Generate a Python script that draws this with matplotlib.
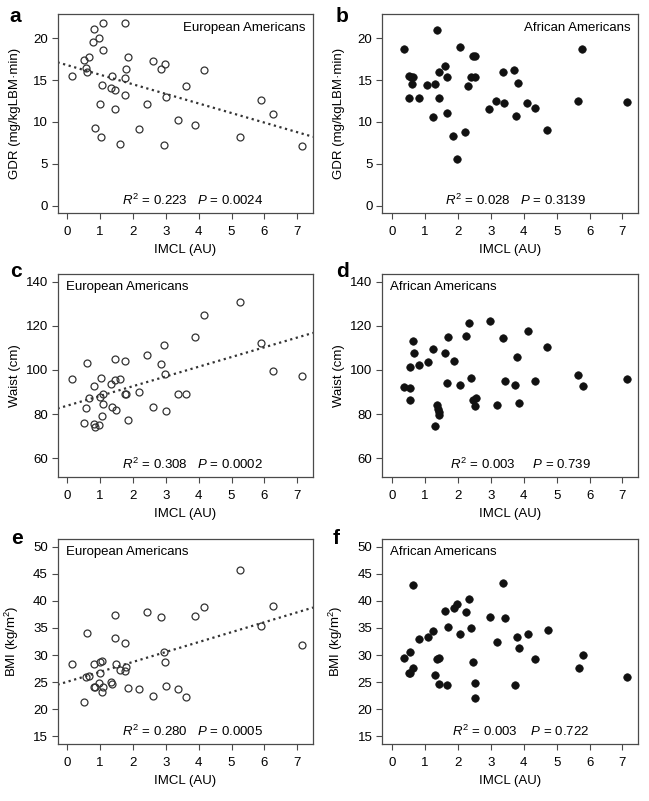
import numpy as np
import matplotlib
matplotlib.use("Agg")
import matplotlib.pyplot as plt

plt.rcParams['font.family'] = ['Liberation Sans', 'DejaVu Sans']
plt.rcParams['mathtext.fontset'] = 'custom'
plt.rcParams['mathtext.rm'] = 'Liberation Sans'
plt.rcParams['mathtext.it'] = 'Liberation Sans:italic'

# ---- data ----
# European Americans: IMCL vs GDR
ea_gdr_x = [0.80, 1.08, 1.75, 0.78, 0.97, 1.09, 0.52, 0.65, 0.56, 0.61, 0.13, 1.85, 1.80,
            1.36, 1.75, 1.06, 1.33, 1.45, 1.75, 0.99, 1.46, 2.41, 2.62, 2.96, 2.86, 3.01,
            3.60, 4.17, 3.38, 3.90, 2.19, 0.84, 1.03, 1.60, 2.94, 5.25, 5.91, 6.26, 7.14]
ea_gdr_y = [21.1, 21.75, 21.75, 19.56, 20.04, 18.57, 17.33, 17.77, 16.45, 15.98, 15.46, 17.77, 16.33,
            15.46, 15.22, 14.42, 14.06, 13.86, 13.23, 12.15, 11.55, 12.15, 17.25, 16.93, 16.37, 12.95,
            14.26, 16.25, 10.28, 9.6, 9.2, 9.32, 8.17, 7.41, 7.21, 8.17, 12.59, 10.92, 7.13]

# African Americans: IMCL vs GDR
aa_gdr_x = [1.35, 0.35, 2.05, 5.76, 2.45, 2.52, 1.61, 3.71, 3.36, 1.41, 0.51, 0.57, 0.64,
            1.66, 2.39, 2.52, 3.83, 0.61, 1.07, 1.30, 2.30, 0.52, 0.82, 1.41, 3.17, 3.41,
            5.64, 7.13, 4.10, 4.33, 2.94, 1.67, 1.24, 3.76, 4.71, 2.21, 1.86, 1.97]
aa_gdr_y = [21.0, 18.7, 18.96, 18.7, 17.85, 17.9, 16.65, 16.2, 16.0, 15.9, 15.5, 15.4, 15.3,
            15.3, 15.3, 15.3, 14.7, 14.5, 14.4, 14.5, 14.3, 12.8, 12.9, 12.8, 12.5, 12.3,
            12.5, 12.35, 12.2, 11.6, 11.5, 11.1, 10.6, 10.7, 9.0, 8.76, 8.33, 5.58]

# European Americans: IMCL vs waist
ea_waist_x = [5.25, 4.17, 3.90, 5.91, 2.93, 2.41, 2.86, 0.61, 1.46, 1.75, 2.96, 6.25, 7.14,
              0.13, 1.03, 1.60, 1.45, 1.33, 0.80, 2.19, 1.09, 1.75, 1.80, 3.38, 3.60, 0.66,
              0.99, 1.09, 1.36, 2.62, 0.56, 1.47, 3.01, 1.06, 1.85, 0.52, 0.80, 0.97, 0.84]
ea_waist_y = [130.8, 124.9, 115.1, 112.1, 111.3, 106.9, 102.9, 103.2, 105.0, 104.1, 98.3, 99.5, 97.3,
              96.1, 96.5, 96.1, 95.3, 93.8, 92.8, 90.2, 89.3, 89.0, 89.3, 89.1, 89.1, 87.2,
              87.6, 84.6, 83.4, 83.2, 82.6, 81.7, 81.6, 79.2, 77.4, 76.2, 75.7, 74.9, 74.2]

# African Americans: IMCL vs waist
aa_waist_x = [2.98, 2.34, 4.12, 2.24, 1.69, 3.37, 0.64, 4.72, 1.25, 0.65, 1.62, 3.78, 1.88,
              1.09, 0.82, 0.55, 5.66, 2.39, 7.14, 4.34, 3.42, 1.67, 3.73, 2.06, 0.36, 0.54,
              5.79, 2.55, 2.47, 0.53, 3.84, 3.19, 1.36, 2.53, 1.40, 1.41, 1.42, 1.31]
aa_waist_y = [122.0, 121.4, 117.5, 115.4, 115.1, 114.6, 113.0, 110.3, 109.7, 107.7, 107.7, 105.7, 104.1,
              103.6, 102.3, 101.5, 97.9, 96.5, 95.8, 95.2, 94.9, 94.1, 93.4, 93.2, 92.5, 92.0,
              92.6, 87.3, 86.6, 86.3, 85.2, 84.2, 84.0, 83.5, 82.2, 80.9, 79.6, 74.8]

# European Americans: IMCL vs BMI
ea_bmi_x = [5.25, 4.17, 6.27, 2.41, 3.90, 1.46, 2.86, 5.91, 0.61, 1.46, 1.75, 7.14, 2.93,
            2.96, 1.07, 0.99, 0.13, 0.80, 1.48, 1.60, 1.80, 1.75, 0.99, 0.56, 0.65, 0.97,
            1.33, 1.36, 0.80, 0.84, 1.09, 1.85, 2.19, 3.01, 3.38, 1.06, 2.62, 3.60, 0.52]
ea_bmi_y = [45.6, 38.8, 39.1, 38.0, 37.2, 37.4, 37.1, 35.3, 34.1, 33.2, 32.2, 31.9, 30.5,
            28.8, 28.9, 28.7, 28.3, 28.3, 28.3, 27.3, 27.8, 27.0, 26.7, 26.0, 26.2, 24.8,
            25.1, 24.7, 24.1, 24.1, 24.1, 24.0, 23.8, 24.2, 23.7, 23.1, 22.4, 22.3, 21.3]

# African Americans: IMCL vs BMI
aa_bmi_x = [0.63, 3.37, 2.33, 1.98, 1.89, 1.62, 2.24, 2.96, 3.42, 1.69, 2.40, 4.74, 1.25,
            4.12, 2.06, 1.08, 3.78, 0.82, 3.19, 3.85, 5.81, 0.55, 0.35, 1.42, 1.36, 4.35,
            2.46, 0.64, 5.67, 0.51, 0.55, 1.30, 7.15, 2.52, 1.41, 1.68, 3.73, 2.53]
aa_bmi_y = [43.0, 43.2, 40.3, 39.5, 38.6, 38.2, 38.0, 37.0, 36.9, 35.2, 35.0, 34.7, 34.4,
            33.8, 33.8, 33.4, 33.4, 32.9, 32.4, 31.3, 30.0, 30.5, 29.5, 29.5, 29.2, 29.3,
            28.7, 27.7, 27.7, 26.7, 26.7, 26.3, 26.0, 24.8, 24.6, 24.4, 24.4, 22.1]

stats_text = ['0.223   ', '0.028   ', '0.308   ', '0.003     ', '0.280   ', '0.003    ']
p_text = ['0.0024', '0.3139', '0.0002', '0.739', '0.0005', '0.722']
letters = ['a', 'b', 'c', 'd', 'e', 'f']
ylabels = ['GDR (mg/kgLBM·min)', 'Waist (cm)', r'BMI (kg/m$^2$)']
yticks = [[0, 5, 10, 15, 20], [60, 80, 100, 120, 140], [15, 20, 25, 30, 35, 40, 45, 50]]
ylims = [(-0.88, 22.88), (51.6, 143.4), (13.6, 51.4)]

panels = [(ea_gdr_x, ea_gdr_y, 'European Americans', True),
          (aa_gdr_x, aa_gdr_y, 'African Americans', False),
          (ea_waist_x, ea_waist_y, 'European Americans', True),
          (aa_waist_x, aa_waist_y, 'African Americans', False),
          (ea_bmi_x, ea_bmi_y, 'European Americans', True),
          (aa_bmi_x, aa_bmi_y, 'African Americans', False)]

fig = plt.figure(figsize=(6.49, 8.01), dpi=100)

lefts = [0.0886, 0.589]
widths = [0.3937, 0.3945]
rows = [(0.7341, 0.2484), (0.4045, 0.2534), (0.0712, 0.2559)]
letter_pos = [(9, 21.7), (336, 21.7), (10, 276.7), (336, 276.7), (11, 544), (333, 544)]
text_x = [0.53, 0.52, 0.53, 0.54, 0.53, 0.54]

spine_col = '#4a4a4a'
xlim = (-0.3, 7.48)

for i, (px, py, group, european) in enumerate(panels):
    r, c = i // 2, i % 2
    ax = fig.add_axes([lefts[c], rows[r][0], widths[c], rows[r][1]])
    px = np.array(px)
    py = np.array(py)

    if european:
        ax.plot(px, py, 'o', ms=5.0, mfc='none', mec='#333333', mew=0.9)
        # regression line over the whole x range
        slope, icpt = np.polyfit(px, py, 1)
        xx = np.array(xlim)
        ax.plot(xx, icpt + slope * xx, color='#333333', lw=1.6,
                linestyle=(0, (1, 1.6)))
    else:
        ax.plot(px, py, 'o', ms=5.4, mfc='#111111', mec='#111111', mew=0.5)

    ax.set_xlim(xlim)
    ax.set_ylim(ylims[r])
    ax.set_xticks(range(8))
    ax.set_yticks(yticks[r])
    ax.tick_params(labelsize=9.5, length=4, width=0.8, color=spine_col)
    ax.tick_params(axis='x', pad=5.5)
    ax.tick_params(axis='y', pad=3)
    for s in ax.spines.values():
        s.set_color(spine_col)
        s.set_linewidth(0.9)
    ax.set_xlabel('IMCL (AU)', fontsize=9.5, labelpad=4.5)
    ax.set_ylabel(ylabels[r], fontsize=9.5)
    # fixed distance from the axis, like R's mtext line
    ax.yaxis.set_label_coords(-0.144, 0.5)

    if r == 0:
        ax.text(0.969, 0.93, group, transform=ax.transAxes, ha='right', va='center', fontsize=9.5)
    else:
        ax.text(0.032, 0.935, group, transform=ax.transAxes, ha='left', va='center', fontsize=9.5)

    ax.text(text_x[i], 0.062, r'$R^2$ = ' + stats_text[i] + r'$P$ = ' + p_text[i],
            transform=ax.transAxes, ha='center', va='center', fontsize=9.5)

    lx, ly = letter_pos[i]
    fig.text(lx / 649, 1 - ly / 801, letters[i], fontsize=15, fontweight='bold',
             ha='left', va='baseline')

fig.savefig('out.png', dpi=100)
